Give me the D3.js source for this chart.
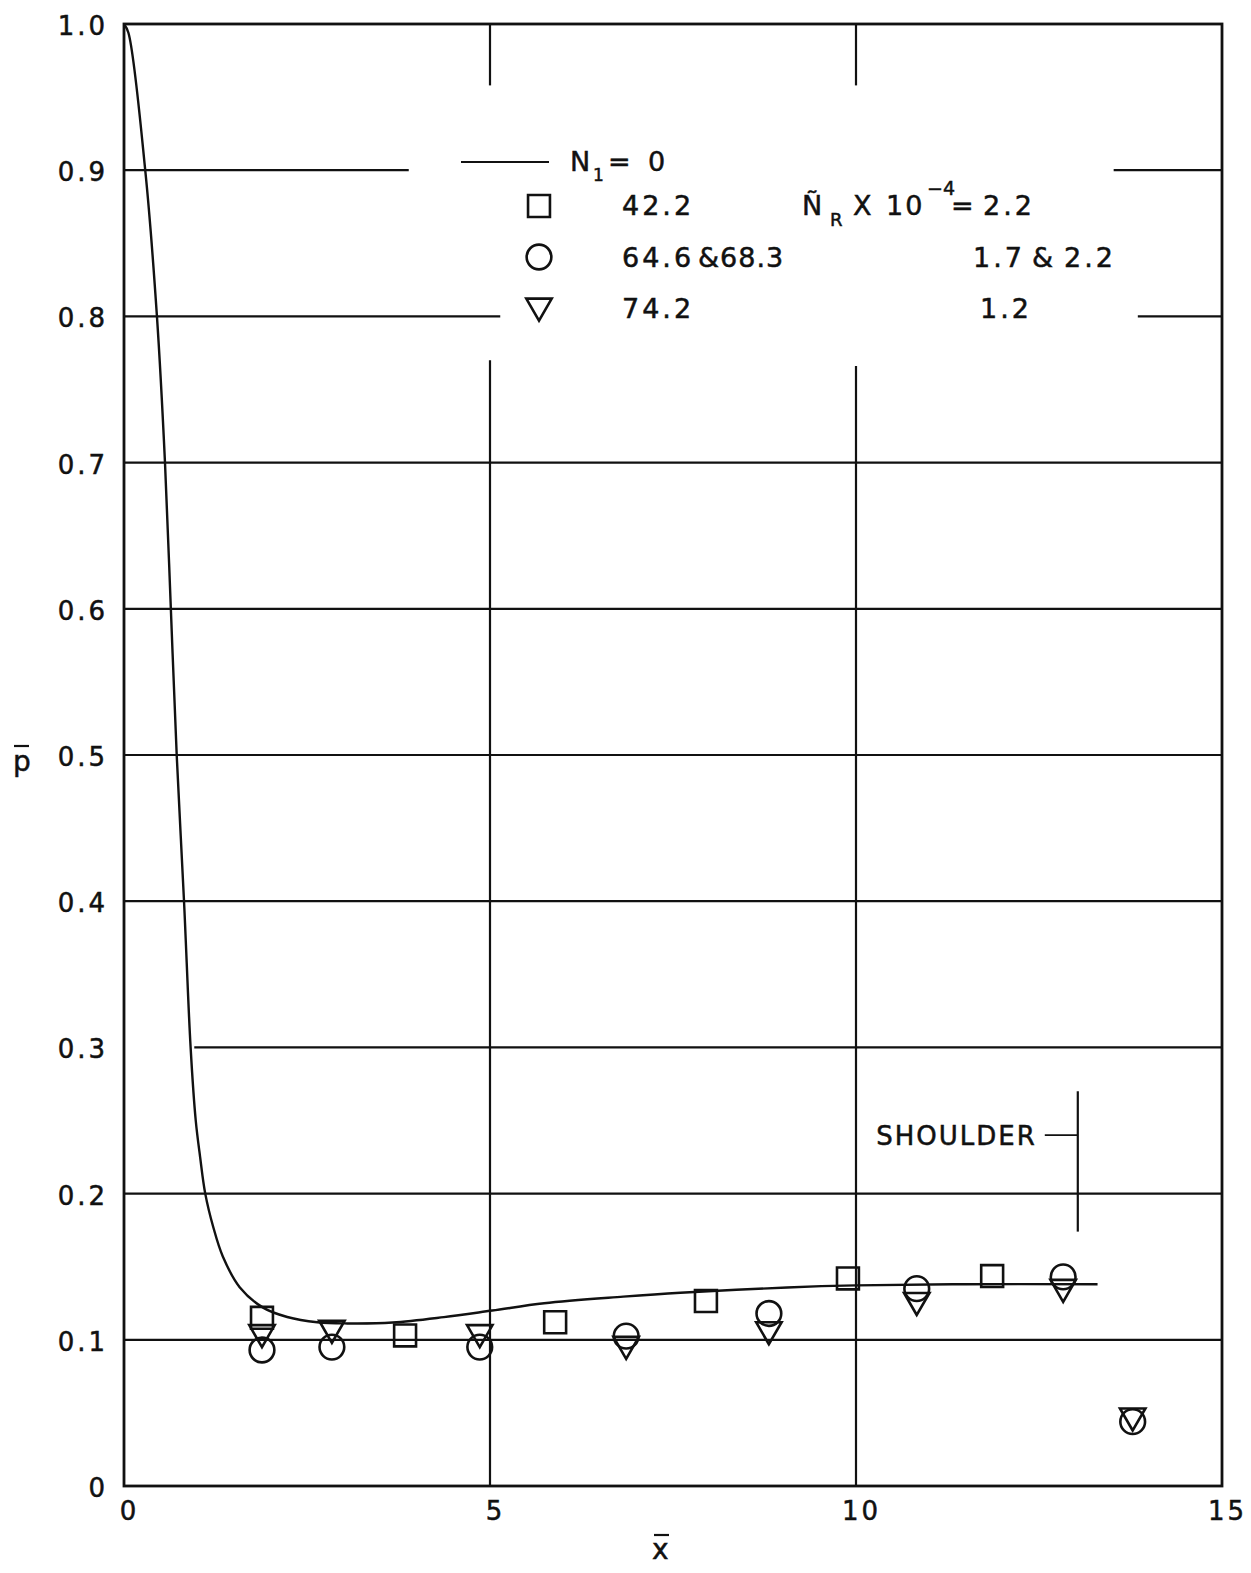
<!DOCTYPE html>
<html>
<head>
<meta charset="utf-8">
<script src="https://cdn.jsdelivr.net/npm/d3@7"></script>
<style>
  body { margin: 0; background: #fff; }
  text { font-family: "DejaVu Sans", sans-serif; fill: #111; stroke: #111; stroke-width: 0.5px; }
</style>
</head>
<body>
<div id="chart"></div>
<script>
// N1 = 0 curve
const curveX = [0, 0.06, 0.29, 0.45, 0.56, 0.64, 0.72, 0.82, 0.91, 0.98, 1.04, 1.11, 1.22, 1.35, 1.58, 1.9, 2.23, 2.64, 3.05, 3.67, 4.37, 5.03, 5.74, 6.82, 7.6, 9.06, 10, 11.5, 13.3];
const curveY = [1.0, 0.994, 0.9, 0.8, 0.7, 0.6, 0.5, 0.4, 0.3, 0.25, 0.225, 0.2, 0.177, 0.157, 0.136, 0.122, 0.1156, 0.112, 0.1112, 0.1118, 0.1155, 0.12, 0.125, 0.1295, 0.1322, 0.1358, 0.1372, 0.138, 0.138];

// N1 = 42.2 (squares)
const squareX = [1.885, 3.84, 5.89, 7.95, 9.89, 11.86];
const squareY = [0.115, 0.103, 0.112, 0.1265, 0.142, 0.1436];

// N1 = 64.6 & 68.3 (circles)
const circleX = [1.885, 2.84, 4.86, 6.86, 8.81, 10.83, 12.83, 13.78];
const circleY = [0.093, 0.095, 0.095, 0.1025, 0.118, 0.135, 0.143, 0.044];

// N1 = 74.2 (triangles)
const triangleX = [1.885, 2.84, 4.86, 6.86, 8.81, 10.83, 12.83, 13.78];
const triangleY = [0.105, 0.108, 0.105, 0.097, 0.107, 0.127, 0.136, 0.048];

const xTicks = [0, 5, 10, 15];
const xTickLabels = ["0", "5", "10", "15"];
const yTicks = [0, 0.1, 0.2, 0.3, 0.4, 0.5, 0.6, 0.7, 0.8, 0.9, 1.0];
const yTickLabels = ["0", "0.1", "0.2", "0.3", "0.4", "0.5", "0.6", "0.7", "0.8", "0.9", "1.0"];

// shoulder marker
const shoulderX = 13.03;
const shoulderY = [0.174, 0.27];

const W = 1251, H = 1573;
const margin = { top: 24, right: 29, bottom: 87, left: 124 };

const svg = d3.select("#chart")
    .append("svg")
    .attr("width", W)
    .attr("height", H);

const x = d3.scaleLinear().domain([0, 15]).range([margin.left, W - margin.right]);
const y = d3.scaleLinear().domain([0, 1]).range([H - margin.bottom, margin.top]);

// gridlines (broken where the legend sits)
const hGrid = [
    { v: 0.1, segs: [[0, 15]] },
    { v: 0.2, segs: [[0, 15]] },
    { v: 0.3, segs: [[0.96, 15]] },
    { v: 0.4, segs: [[0, 15]] },
    { v: 0.5, segs: [[0, 15]] },
    { v: 0.6, segs: [[0, 15]] },
    { v: 0.7, segs: [[0, 15]] },
    { v: 0.8, segs: [[0, 5.14], [13.85, 15]] },
    { v: 0.9, segs: [[0, 3.89], [13.52, 15]] }
];
const vGrid = [
    { v: 5, segs: [[0, 0.77], [0.958, 1]] },
    { v: 10, segs: [[0, 0.766], [0.958, 1]] }
];

const grid = svg.append("g").attr("stroke", "#111").attr("stroke-width", 2.2);
hGrid.forEach(g => g.segs.forEach(s => {
    grid.append("line")
        .attr("x1", x(s[0])).attr("x2", x(s[1]))
        .attr("y1", y(g.v)).attr("y2", y(g.v));
}));
vGrid.forEach(g => g.segs.forEach(s => {
    grid.append("line")
        .attr("x1", x(g.v)).attr("x2", x(g.v))
        .attr("y1", y(s[0])).attr("y2", y(s[1]));
}));

// curve
const curve = curveX.map((d, i) => ({ x: d, y: curveY[i] }));
const line = d3.line()
    .x(d => x(d.x))
    .y(d => y(d.y))
    .curve(d3.curveCatmullRom.alpha(0.5));

svg.append("path")
    .datum(curve)
    .attr("fill", "none")
    .attr("stroke", "#111")
    .attr("stroke-width", 2.4)
    .attr("d", line);

// markers
const markerStyle = sel => sel
    .attr("fill", "none")
    .attr("stroke", "#111")
    .attr("stroke-width", 2.6);

const sqSym = d3.symbol().type(d3.symbolSquare).size(480);
const ciSym = d3.symbol().type(d3.symbolCircle).size(480);
const trSym = d3.symbol().type(d3.symbolTriangle).size(280);

svg.append("g").selectAll("path")
    .data(squareX.map((d, i) => [d, squareY[i]]))
    .join("path")
    .attr("d", sqSym)
    .attr("transform", d => `translate(${x(d[0])},${y(d[1])})`)
    .call(markerStyle);

svg.append("g").selectAll("path")
    .data(circleX.map((d, i) => [d, circleY[i]]))
    .join("path")
    .attr("d", ciSym)
    .attr("transform", d => `translate(${x(d[0])},${y(d[1])})`)
    .call(markerStyle);

svg.append("g").selectAll("path")
    .data(triangleX.map((d, i) => [d, triangleY[i]]))
    .join("path")
    .attr("d", trSym)
    .attr("transform", d => `translate(${x(d[0])},${y(d[1])}) rotate(180)`)
    .call(markerStyle);

// frame
svg.append("rect")
    .attr("x", x(0)).attr("y", y(1))
    .attr("width", x(15) - x(0)).attr("height", y(0) - y(1))
    .attr("fill", "none")
    .attr("stroke", "#111")
    .attr("stroke-width", 2.8);

// axes (labels only)
const yAxis = svg.append("g")
    .attr("transform", `translate(${x(0)},0)`)
    .call(d3.axisLeft(y).tickValues(yTicks).tickSize(0).tickPadding(16)
        .tickFormat((d, i) => yTickLabels[i]));
yAxis.select(".domain").remove();
yAxis.selectAll("text")
    .style("font-size", "26px")
    .style("letter-spacing", "3px")
    .style("font-family", "DejaVu Sans, sans-serif")
    .attr("dy", "0.4em")
    .attr("fill", "#111");

const xAxis = svg.append("g")
    .attr("transform", `translate(0,${y(0)})`)
    .call(d3.axisBottom(x).tickValues(xTicks).tickSize(0).tickPadding(16)
        .tickFormat((d, i) => xTickLabels[i]));
xAxis.select(".domain").remove();
xAxis.selectAll("text")
    .style("font-size", "26px")
    .style("letter-spacing", "3px")
    .style("font-family", "DejaVu Sans, sans-serif")
    .attr("dx", 5)
    .attr("fill", "#111");

// axis titles with overbars
svg.append("text").attr("x", 13).attr("y", 771).style("font-size", "28px").text("p");
svg.append("line").attr("x1", 14).attr("x2", 29).attr("y1", 746).attr("y2", 746)
    .attr("stroke", "#111").attr("stroke-width", 2.2);
svg.append("text").attr("x", 652).attr("y", 1559).style("font-size", "28px").text("x");
svg.append("line").attr("x1", 654).attr("x2", 669).attr("y1", 1535).attr("y2", 1535)
    .attr("stroke", "#111").attr("stroke-width", 2.2);

// legend
const leg = svg.append("g").style("font-size", "27px").style("letter-spacing", "3px");
leg.append("line").attr("x1", 461).attr("x2", 549).attr("y1", 162).attr("y2", 162)
    .attr("stroke", "#111").attr("stroke-width", 2.2);
leg.append("text").attr("x", 570).attr("y", 171).text("N");
leg.append("text").attr("x", 593).attr("y", 181).style("font-size", "17px").text("1");
leg.append("text").attr("x", 608).attr("y", 171).text("=");
leg.append("text").attr("x", 648).attr("y", 171).text("0");

leg.append("path").attr("d", sqSym).attr("transform", "translate(539,206)").call(markerStyle);
leg.append("path").attr("d", ciSym).attr("transform", "translate(539,257)").call(markerStyle);
leg.append("path").attr("d", trSym).attr("transform", "translate(539,306) rotate(180)").call(markerStyle);

leg.append("text").attr("x", 622).attr("y", 215).text("42.2");
leg.append("text").attr("x", 622).attr("y", 267).text("64.6");
leg.append("text").attr("x", 698).attr("y", 267).style("letter-spacing", "1px").text("&68.3");
leg.append("text").attr("x", 622).attr("y", 318).text("74.2");

leg.append("text").attr("x", 802).attr("y", 215).style("letter-spacing", "0px").text("Ñ");
leg.append("text").attr("x", 830).attr("y", 226).style("font-size", "18px").style("letter-spacing", "0px").text("R");
leg.append("text").attr("x", 853).attr("y", 215).style("letter-spacing", "0px").text("X");
leg.append("text").attr("x", 886).attr("y", 215).style("letter-spacing", "2px").text("10");
leg.append("text").attr("x", 927).attr("y", 195).style("font-size", "19px").style("letter-spacing", "0px").text("−4");
leg.append("text").attr("x", 951).attr("y", 215).style("letter-spacing", "0px").text("=");
leg.append("text").attr("x", 983).attr("y", 215).text("2.2");
leg.append("text").attr("x", 973).attr("y", 267).text("1.7");
leg.append("text").attr("x", 1032).attr("y", 267).style("letter-spacing", "0px").text("&");
leg.append("text").attr("x", 1064).attr("y", 267).text("2.2");
leg.append("text").attr("x", 980).attr("y", 318).text("1.2");

// shoulder annotation
svg.append("line")
    .attr("x1", x(shoulderX)).attr("x2", x(shoulderX))
    .attr("y1", y(shoulderY[0])).attr("y2", y(shoulderY[1]))
    .attr("stroke", "#111").attr("stroke-width", 2.2);
svg.append("line")
    .attr("x1", x(shoulderX) - 33).attr("x2", x(shoulderX))
    .attr("y1", y(0.24)).attr("y2", y(0.24))
    .attr("stroke", "#111").attr("stroke-width", 1.8);
svg.append("text")
    .attr("x", x(shoulderX) - 41)
    .attr("y", y(0.24) + 10)
    .attr("text-anchor", "end")
    .style("font-size", "26px")
    .style("letter-spacing", "2px")
    .text("SHOULDER");
</script>
</body>
</html>
